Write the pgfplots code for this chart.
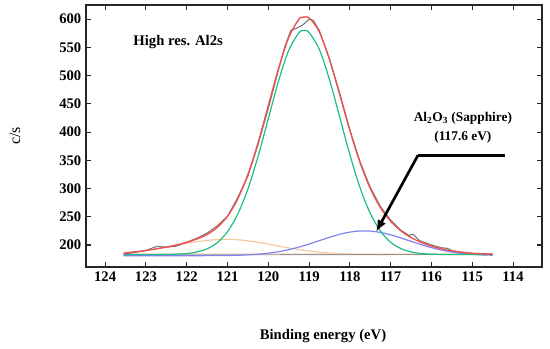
\documentclass[border=0pt]{standalone}
\usepackage{fontspec}
\setmainfont{Liberation Serif}
\usepackage{pgfplots}
\pgfplotsset{compat=1.18}
\usetikzlibrary{arrows.meta}
\definecolor{cred}{RGB}{240,80,80}
\definecolor{cgreen}{RGB}{30,190,130}
\definecolor{cblue}{RGB}{130,130,240}
\definecolor{corange}{RGB}{245,200,160}
\definecolor{cgray}{RGB}{120,120,120}
\begin{document}
\begin{tikzpicture}
\begin{axis}[name=ax, scale only axis, width=342pt, height=196.5pt,
  x dir=reverse, xmin=113.29, xmax=124.47, ymin=161, ymax=625,
  xtick={114,115,...,124}, ytick={200,250,...,600},
  tick align=inside, major tick length=3.5pt,
  tick label style={font=\bfseries\fontsize{11}{12}\selectfont},
  /pgf/number format/assume math mode=true,
  axis line style={line width=0.9pt, black!85},
  tick style={line width=0.8pt, black!85},
  every axis plot/.append style={line width=0.9pt}]
% orange component
\addplot[corange, smooth] coordinates {
(123.5,186.4)(123.25,188.1)(123.0,190.3)(122.75,193.0)(122.5,196.1)(122.25,199.4)(122.0,202.8)(121.75,205.8)(121.5,208.2)(121.25,209.6)(121.0,210.0)(120.75,209.2)(120.5,207.3)(120.25,204.7)(120.0,201.5)(119.75,198.1)(119.5,194.8)(119.25,191.8)(119.0,189.3)(118.75,187.4)(118.5,185.9)(118.25,184.8)(118.0,184.1)(117.75,183.7)(117.5,183.4)(117.25,183.2)(117.0,183.1)(116.5,183.0)(115.5,183.0)(114.5,183.0)};
% faint background lines
\addplot[corange!70, line width=0.7pt] coordinates {(123.5,184.5)(114.5,184.0)};
\addplot[cgray!80, line width=0.7pt] coordinates {(123.55,182.3)(114.5,183.4)};
% blue component
\addplot[cblue, smooth] coordinates {
(123.55,181.0)(122.0,181.0)(121.0,181.4)(120.75,181.8)(120.5,182.5)(120.25,183.7)(120.0,185.5)(119.75,188.1)(119.5,191.7)(119.25,196.3)(119.0,201.7)(118.75,207.7)(118.5,213.6)(118.25,218.9)(118.0,222.8)(117.75,224.8)(117.5,224.6)(117.25,222.2)(117.0,218.0)(116.75,212.5)(116.5,206.5)(116.25,200.6)(116.0,195.3)(115.75,190.9)(115.5,187.5)(115.25,185.1)(115.0,183.4)(114.75,182.4)(114.5,181.9)};
% green main component
\addplot[cgreen, smooth] coordinates {
(123.55,183.0)(123.0,183.0)(122.75,183.1)(122.5,183.2)(122.25,183.7)(122.0,184.9)(121.75,187.6)(121.5,193.2)(121.25,204.2)(121.0,223.5)(120.75,254.5)(120.5,299.1)(120.25,357.1)(120.0,423.8)(119.75,490.3)(119.5,544.7)(119.25,575.7)(119.12,580.0)(119.0,576.3)(118.75,546.4)(118.5,492.7)(118.25,426.6)(118.0,359.7)(117.75,301.2)(117.5,256.0)(117.25,224.5)(117.0,204.8)(116.75,193.6)(116.5,187.7)(116.25,184.9)(116.0,183.7)(115.75,183.3)(115.5,183.1)(115.0,183.0)(114.5,183.0)};
% measured data
\addplot[cgray, line width=0.8pt] coordinates {
(123.55,184)(123.25,187)(123.0,190)(122.8,196)(122.7,197.5)(122.5,196)(122.25,198)(122.0,205)(121.75,212)(121.5,221)(121.25,234)(121.0,251)(120.75,284)(120.5,322)(120.25,378)(120.0,442)(119.75,510)(119.6,550)(119.45,580)(119.3,584)(119.15,590)(119.0,600)(118.9,598)(118.75,580)(118.5,530)(118.25,469)(118.0,404)(117.75,347)(117.5,302)(117.25,268)(117.0,244)(116.75,226)(116.55,217)(116.45,219)(116.3,208)(116.0,200)(115.75,195)(115.6,194)(115.5,190)(115.25,187)(115.0,185)(114.5,184)};
% red envelope
\addplot[cred, smooth, line width=1pt] coordinates {
(123.55,185.5)(123.25,188.1)(123.0,190.3)(122.75,193.1)(122.5,196.3)(122.25,200.2)(122.0,204.8)(121.75,210.6)(121.5,218.6)(121.25,231.1)(121.0,250.9)(120.75,281.5)(120.5,324.9)(120.25,381.5)(120.0,446.8)(119.75,512.5)(119.5,567.2)(119.25,599.8)(119.12,603.5)(119.0,602.3)(118.75,577.5)(118.5,528.2)(118.25,466.3)(118.0,402.6)(117.75,345.7)(117.5,300.0)(117.25,265.9)(117.0,241.9)(116.75,225.1)(116.5,213.2)(116.25,204.5)(116.0,198.0)(115.75,193.2)(115.5,189.6)(115.25,187.1)(115.0,185.4)(114.75,184.4)(114.5,183.7)};
% annotations
\node[font=\bfseries\fontsize{11}{13}\selectfont] at (axis cs:122.21,559) {High res. Al2s};
\node[font=\bfseries\fontsize{10}{14}\selectfont, align=center] at (axis cs:115.23,408) {Al\textsubscript{2}O\textsubscript{3} (Sapphire)\\(117.6 eV)};
\draw[line width=2pt] (axis cs:114.2,359) -- (axis cs:116.33,359);
\draw[line width=2pt, -{Latex[length=9pt,width=7pt]}] (axis cs:116.33,359) -- (axis cs:117.36,223);
\end{axis}
\node[rotate=90, font=\fontsize{12}{14}\selectfont] at ([xshift=-53.25pt]ax.west) {c/s};
\node[font=\bfseries\fontsize{11}{13}\selectfont] at ([xshift=6.75pt,yshift=-51.75pt]ax.south) {Binding energy (eV)};
\pgfresetboundingbox
\useasboundingbox ([shift={(-64.5pt,-60.75pt)}]ax.south west) rectangle ([shift={(6pt,3.75pt)}]ax.north east);
\end{tikzpicture}
\end{document}
